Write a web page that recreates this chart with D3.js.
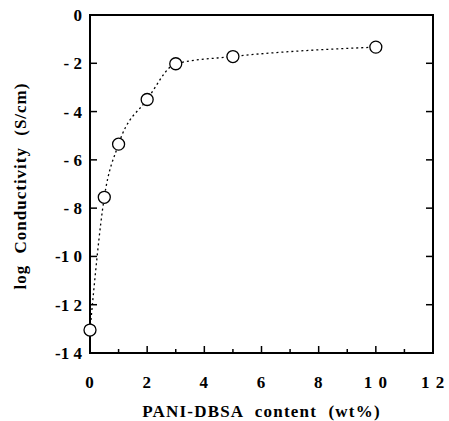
<!DOCTYPE html>
<html>
<head>
<meta charset="utf-8">
<script src="https://cdn.jsdelivr.net/npm/d3@7"></script>
<style>
  body { margin: 0; background: #fff; }
  text { font-family: "Liberation Serif", "Times New Roman", serif; font-weight: bold; fill: #000; }
</style>
</head>
<body>
<svg width="449" height="421"></svg>
<script>
var content = [0, 0.5, 1, 2, 3, 5, 10],
    logCond = [-13.05, -7.55, -5.35, -3.5, -2.02, -1.72, -1.33];

var xTicks = [0, 2, 4, 6, 8, 10, 12],
    xTickLabels = ["0", "2", "4", "6", "8", "1 0", "1 2"],
    yTicks = [0, -2, -4, -6, -8, -10, -12, -14],
    yTickLabels = ["0", "- 2", "- 4", "- 6", "- 8", "-1 0", "-1 2", "-1 4"];

var svg = d3.select("svg"),
    margin = {top: 15, right: 16, bottom: 68, left: 90},
    width = +svg.attr("width") - margin.left - margin.right,
    height = +svg.attr("height") - margin.top - margin.bottom,
    g = svg.append("g").attr("transform", "translate(" + margin.left + "," + margin.top + ")");

var x = d3.scaleLinear().domain([0, 12]).range([0, width]);
var y = d3.scaleLinear().domain([-14, 0]).range([height, 0]);

// frame
g.append("rect")
    .attr("width", width)
    .attr("height", height)
    .attr("fill", "none")
    .attr("stroke", "#000")
    .attr("stroke-width", 2);

// bottom ticks (inside), every unit
g.append("g").selectAll("line")
  .data(d3.range(0, 13))
  .enter().append("line")
    .attr("x1", function(d) { return x(d); })
    .attr("x2", function(d) { return x(d); })
    .attr("y1", height)
    .attr("y2", function(d) { return height - (d % 2 === 0 ? 7 : 4); })
    .attr("stroke", "#000")
    .attr("stroke-width", 1.5);

// left & right ticks (inside)
g.append("g").selectAll("line")
  .data(yTicks)
  .enter().append("line")
    .attr("x1", 0).attr("x2", 7)
    .attr("y1", function(d) { return y(d); })
    .attr("y2", function(d) { return y(d); })
    .attr("stroke", "#000")
    .attr("stroke-width", 1.5);

g.append("g").selectAll("line")
  .data(yTicks)
  .enter().append("line")
    .attr("x1", width).attr("x2", width - 7)
    .attr("y1", function(d) { return y(d); })
    .attr("y2", function(d) { return y(d); })
    .attr("stroke", "#000")
    .attr("stroke-width", 1.5);

// tick labels
g.append("g").selectAll("text")
  .data(xTicks)
  .enter().append("text")
    .attr("x", function(d) { return x(d); })
    .attr("y", height + 35)
    .attr("text-anchor", "middle")
    .style("font-size", "17px")
    .style("letter-spacing", "1px")
    .text(function(d, i) { return xTickLabels[i]; });

g.append("g").selectAll("text")
  .data(yTicks)
  .enter().append("text")
    .attr("x", -8)
    .attr("y", function(d) { return y(d); })
    .attr("dy", "0.35em")
    .attr("text-anchor", "end")
    .style("font-size", "17px")
    .text(function(d, i) { return yTickLabels[i]; });

// axis titles
svg.append("text")
    .attr("x", margin.left + width / 2)
    .attr("y", 417)
    .attr("text-anchor", "middle")
    .style("font-size", "17px")
    .style("letter-spacing", "1.2px")
    .style("word-spacing", "6px")
    .text("PANI-DBSA  content  (wt%)");

svg.append("text")
    .attr("transform", "translate(26," + (margin.top + height / 2 + 2) + ") rotate(-90)")
    .attr("text-anchor", "middle")
    .style("font-size", "17px")
    .style("letter-spacing", "1px")
    .style("word-spacing", "6px")
    .text("log  Conductivity  (S/cm)");

// dotted curve
var pts = content.map(function(c, i) { return [c, logCond[i]]; });
var line = d3.line()
    .x(function(d) { return x(d[0]); })
    .y(function(d) { return y(d[1]); })
    .curve(d3.curveMonotoneX);

g.append("path")
    .datum(pts)
    .attr("d", line)
    .attr("fill", "none")
    .attr("stroke", "#000")
    .attr("stroke-width", 1.3)
    .attr("stroke-dasharray", "2,3");

// markers
g.append("g").selectAll("circle")
  .data(pts)
  .enter().append("circle")
    .attr("cx", function(d) { return x(d[0]); })
    .attr("cy", function(d) { return y(d[1]); })
    .attr("r", 6)
    .attr("fill", "#fff")
    .attr("stroke", "#000")
    .attr("stroke-width", 1.3);
</script>
</body>
</html>
